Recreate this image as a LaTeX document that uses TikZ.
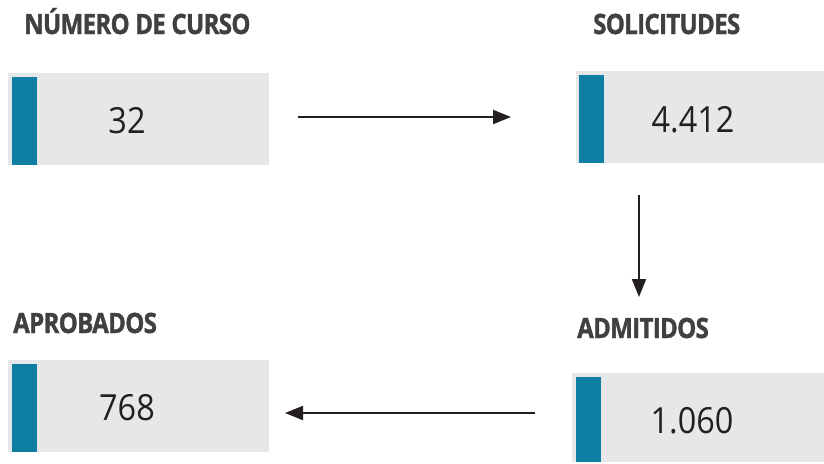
\documentclass[tikz,border=0pt]{standalone}
\usepackage{fontspec}
\setmainfont{Open Sans}
\newfontfamily\titlefont[FakeStretch=0.86,LetterSpace=-2.5,FakeBold=1.2]{Open Sans Bold}
\newfontfamily\numfont[FakeStretch=0.9]{Open Sans}
\usetikzlibrary{arrows.meta}
\definecolor{teal1}{HTML}{0E7FA3}
\definecolor{boxgray}{HTML}{E6E7E8}
\definecolor{titlegray}{HTML}{404040}
\definecolor{numblack}{HTML}{231F20}
\tikzset{
  panel/.style={fill=boxgray,draw=none},
  bar/.style={fill=teal1,draw=none},
  title/.style={anchor=base west,inner sep=0pt,text=titlegray,font=\titlefont\fontsize{28}{28}\selectfont},
  num/.style={anchor=base,inner sep=0pt,text=numblack,font=\numfont\fontsize{36}{36}\selectfont},
  flow/.style={draw=numblack,line width=2pt,-{Triangle[length=18pt,width=14pt]}}
}
\begin{document}
\begin{tikzpicture}[x=1pt,y=-1pt]
\useasboundingbox (0,0) rectangle (824,463);
% boxes
\fill[panel] (8,73) rectangle (269,165);
\fill[bar] (12,77) rectangle (37,165);
\fill[panel] (576,71) rectangle (824,163);
\fill[bar] (579,75) rectangle (604,163);
\fill[panel] (8,360) rectangle (269,452);
\fill[bar] (12,364) rectangle (37,452);
\fill[panel] (572,373) rectangle (824,462);
\fill[bar] (576,377) rectangle (601,462);
% titles
\node[title] (t1) at (24,34) {NÚMERO DE CURSO};
\node[title] (t2) at (593,34) {SOLICITUDES};
\node[title] (t3) at (13,333) {APROBADOS};
\node[title] (t4) at (577,338) {ADMITIDOS};
% numbers
\node[num] (n1) at (127,133) {32};
\node[num] (n2) at (693,132) {4.412};
\node[num] (n3) at (127,420) {768};
\node[num] (n4) at (692,433) {1.060};
% arrow ends
\coordinate (a1s) at (298,117);
\coordinate (a1e) at (511,117);
\coordinate (a2s) at (639,195);
\coordinate (a2e) at (639,297);
\coordinate (a3s) at (535,413);
\coordinate (a3e) at (285,413);
\draw[flow] (a1s) -- (a1e);
\draw[flow] (a2s) -- (a2e);
\draw[flow] (a3s) -- (a3e);
\end{tikzpicture}
\end{document}
